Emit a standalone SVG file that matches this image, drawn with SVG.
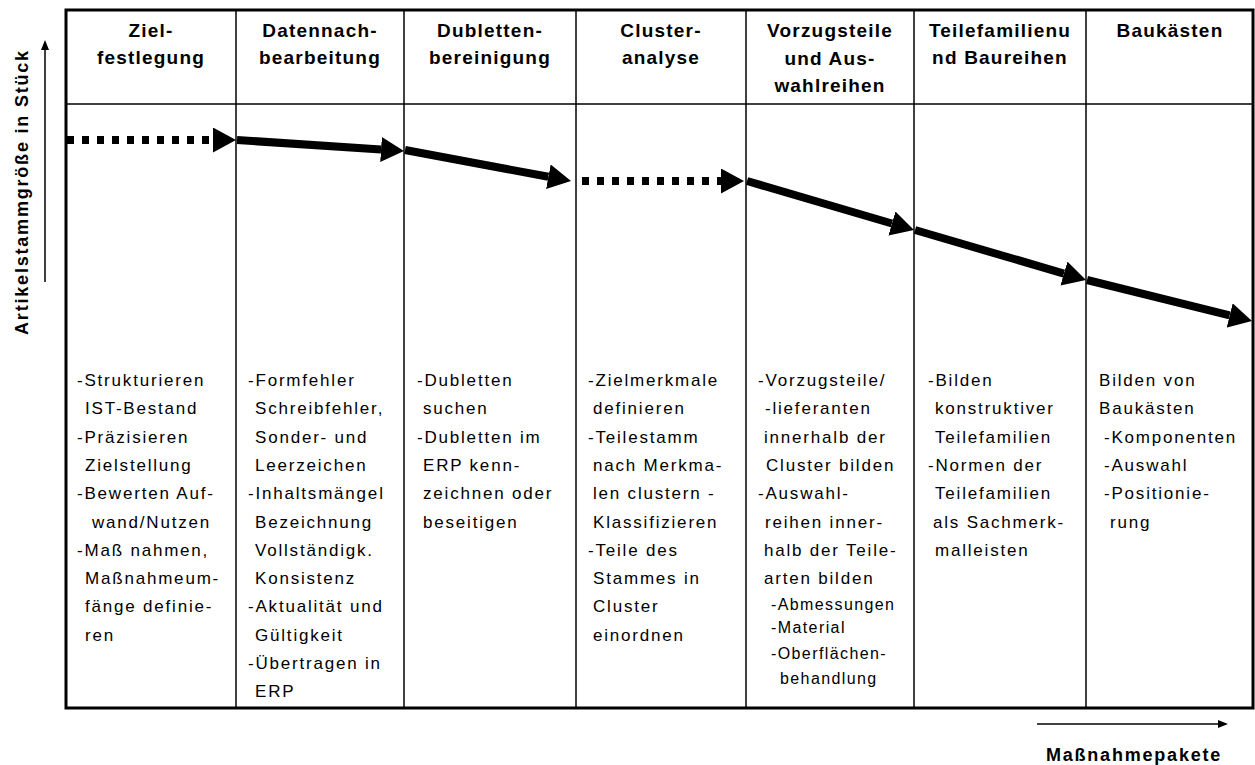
<svg xmlns="http://www.w3.org/2000/svg" width="1255" height="765" viewBox="0 0 1255 765">
  <style>
    .frame { fill: none; stroke: #000; stroke-width: 3; }
    .grid { stroke: #000; stroke-width: 1.5; fill: none; }
    .head { font-family: "Liberation Sans", Arial, sans-serif; font-weight: bold; font-size: 19px; letter-spacing: 1.2px; text-anchor: middle; fill: #000; }
    .body { font-family: "Liberation Sans", Arial, sans-serif; font-size: 17px; letter-spacing: 1.8px; fill: #000; }
    .small { font-family: "Liberation Sans", Arial, sans-serif; font-size: 16px; letter-spacing: 1.4px; fill: #000; }
    .axis { font-family: "Liberation Sans", Arial, sans-serif; font-weight: bold; font-size: 18px; letter-spacing: 1.8px; fill: #000; }
    .step { stroke: #000; stroke-width: 8; fill: none; }
    .dotted { stroke: #000; stroke-width: 8; fill: none; stroke-dasharray: 7 8; }
    .thin { stroke: #000; stroke-width: 1.5; fill: none; }
  </style>
  <defs>
    <marker id="bigHead" markerUnits="userSpaceOnUse" markerWidth="23" markerHeight="25" refX="0" refY="12.5" orient="auto">
      <path d="M0,0 L23,12.5 L0,25 Z" fill="#000"/>
    </marker>
    <marker id="smallHead" markerUnits="userSpaceOnUse" markerWidth="10" markerHeight="8" refX="0" refY="4" orient="auto">
      <path d="M0,0 L10,4 L0,8 Z" fill="#000"/>
    </marker>
  </defs>

  <rect width="1255" height="765" fill="#fff"/>

  <!-- table frame and column grid -->
  <g id="table">
    <rect class="frame" x="66" y="10" width="1187" height="698"/>
    <line class="grid" x1="66" y1="104" x2="1253" y2="104"/>
    <line class="grid" x1="236" y1="10" x2="236" y2="708"/>
    <line class="grid" x1="404" y1="10" x2="404" y2="708"/>
    <line class="grid" x1="576" y1="10" x2="576" y2="708"/>
    <line class="grid" x1="746" y1="10" x2="746" y2="708"/>
    <line class="grid" x1="914" y1="10" x2="914" y2="708"/>
    <line class="grid" x1="1086" y1="10" x2="1086" y2="708"/>
  </g>

  <!-- axes -->
  <g id="axis-y">
    <line class="thin" x1="45" y1="282" x2="45" y2="50" marker-end="url(#smallHead)"/>
    <text class="axis" transform="translate(28,192) rotate(-90)" text-anchor="middle">Artikelstammgröße in Stück</text>
  </g>
  <g id="axis-x">
    <line class="thin" x1="1037" y1="724" x2="1218" y2="724" marker-end="url(#smallHead)"/>
    <text class="axis" x="1134" y="761" text-anchor="middle" letter-spacing="1.3">Maßnahmepakete</text>
  </g>

  <!-- phase columns -->
  <g id="zielfestlegung">
    <text class="head"><tspan x="151" y="37">Ziel-</tspan><tspan x="151" y="64">festlegung</tspan></text>
    <text class="body">
      <tspan x="77" y="386">-Strukturieren</tspan>
      <tspan x="85" y="414">IST-Bestand</tspan>
      <tspan x="77" y="443">-Präzisieren</tspan>
      <tspan x="85" y="471">Zielstellung</tspan>
      <tspan x="77" y="499">-Bewerten Auf-</tspan>
      <tspan x="92" y="528">wand/Nutzen</tspan>
      <tspan x="77" y="556">-Maß nahmen,</tspan>
      <tspan x="85" y="584">Maßnahmeum-</tspan>
      <tspan x="85" y="612">fänge definie-</tspan>
      <tspan x="85" y="641">ren</tspan>
    </text>
  </g>

  <g id="datennachbearbeitung">
    <text class="head"><tspan x="320" y="37">Datennach-</tspan><tspan x="320" y="64">bearbeitung</tspan></text>
    <text class="body">
      <tspan x="248" y="386">-Formfehler</tspan>
      <tspan x="255" y="414">Schreibfehler,</tspan>
      <tspan x="255" y="443">Sonder- und</tspan>
      <tspan x="255" y="471">Leerzeichen</tspan>
      <tspan x="248" y="499">-Inhaltsmängel</tspan>
      <tspan x="255" y="528">Bezeichnung</tspan>
      <tspan x="255" y="556">Vollständigk.</tspan>
      <tspan x="255" y="584">Konsistenz</tspan>
      <tspan x="248" y="612">-Aktualität und</tspan>
      <tspan x="255" y="641">Gültigkeit</tspan>
      <tspan x="248" y="669">-Übertragen in</tspan>
      <tspan x="255" y="697">ERP</tspan>
    </text>
  </g>

  <g id="dublettenbereinigung">
    <text class="head"><tspan x="490" y="37">Dubletten-</tspan><tspan x="490" y="64">bereinigung</tspan></text>
    <text class="body">
      <tspan x="417" y="386">-Dubletten</tspan>
      <tspan x="423" y="414">suchen</tspan>
      <tspan x="417" y="443">-Dubletten im</tspan>
      <tspan x="423" y="471">ERP kenn-</tspan>
      <tspan x="423" y="499">zeichnen oder</tspan>
      <tspan x="423" y="528">beseitigen</tspan>
    </text>
  </g>

  <g id="clusteranalyse">
    <text class="head"><tspan x="661" y="37">Cluster-</tspan><tspan x="661" y="64">analyse</tspan></text>
    <text class="body">
      <tspan x="588" y="386">-Zielmerkmale</tspan>
      <tspan x="593" y="414">definieren</tspan>
      <tspan x="588" y="443">-Teilestamm</tspan>
      <tspan x="593" y="471">nach Merkma-</tspan>
      <tspan x="593" y="499">len clustern -</tspan>
      <tspan x="593" y="528">Klassifizieren</tspan>
      <tspan x="588" y="556">-Teile des</tspan>
      <tspan x="593" y="584">Stammes in</tspan>
      <tspan x="593" y="612">Cluster</tspan>
      <tspan x="593" y="641">einordnen</tspan>
    </text>
  </g>

  <g id="vorzugsteile">
    <text class="head"><tspan x="830" y="37">Vorzugsteile</tspan><tspan x="830" y="65">und Aus-</tspan><tspan x="830" y="92">wahlreihen</tspan></text>
    <text class="body">
      <tspan x="758" y="386">-Vorzugsteile/</tspan>
      <tspan x="765" y="414">-lieferanten</tspan>
      <tspan x="764" y="443">innerhalb der</tspan>
      <tspan x="766" y="471">Cluster bilden</tspan>
      <tspan x="758" y="499">-Auswahl-</tspan>
      <tspan x="765" y="528">reihen inner-</tspan>
      <tspan x="764" y="556">halb der Teile-</tspan>
      <tspan x="764" y="584">arten bilden</tspan>
    </text>
    <text class="small">
      <tspan x="771" y="610">-Abmessungen</tspan>
      <tspan x="771" y="633">-Material</tspan>
      <tspan x="771" y="659">-Oberflächen-</tspan>
      <tspan x="780" y="684">behandlung</tspan>
    </text>
  </g>

  <g id="teilefamilien">
    <text class="head"><tspan x="1000" y="37">Teilefamilienu</tspan><tspan x="1000" y="64">nd Baureihen</tspan></text>
    <text class="body">
      <tspan x="928" y="386">-Bilden</tspan>
      <tspan x="935" y="414">konstruktiver</tspan>
      <tspan x="935" y="443">Teilefamilien</tspan>
      <tspan x="928" y="471">-Normen der</tspan>
      <tspan x="935" y="499">Teilefamilien</tspan>
      <tspan x="933" y="528">als Sachmerk-</tspan>
      <tspan x="935" y="556">malleisten</tspan>
    </text>
  </g>

  <g id="baukaesten">
    <text class="head"><tspan x="1170" y="37">Baukästen</tspan></text>
    <text class="body">
      <tspan x="1099" y="386">Bilden von</tspan>
      <tspan x="1099" y="414">Baukästen</tspan>
      <tspan x="1104" y="443">-Komponenten</tspan>
      <tspan x="1104" y="471">-Auswahl</tspan>
      <tspan x="1104" y="499">-Positionie-</tspan>
      <tspan x="1110" y="528">rung</tspan>
    </text>
  </g>

  <!-- falling trend of the article master size across the phases -->
  <g id="connectors">
    <line class="dotted" x1="67" y1="140" x2="213" y2="140" marker-end="url(#bigHead)"/>
    <line class="step" x1="237" y1="140" x2="381.05" y2="149.49" marker-end="url(#bigHead)"/>
    <line class="step" x1="405" y1="150" x2="548.39" y2="176.78" marker-end="url(#bigHead)"/>
    <line class="dotted" x1="582" y1="181" x2="721" y2="181" marker-end="url(#bigHead)"/>
    <line class="step" x1="747" y1="181" x2="891.93" y2="223.52" marker-end="url(#bigHead)"/>
    <line class="step" x1="915" y1="230" x2="1063.92" y2="273.55" marker-end="url(#bigHead)"/>
    <line class="step" x1="1087" y1="280" x2="1229.68" y2="315.45" marker-end="url(#bigHead)"/>
  </g>
</svg>
